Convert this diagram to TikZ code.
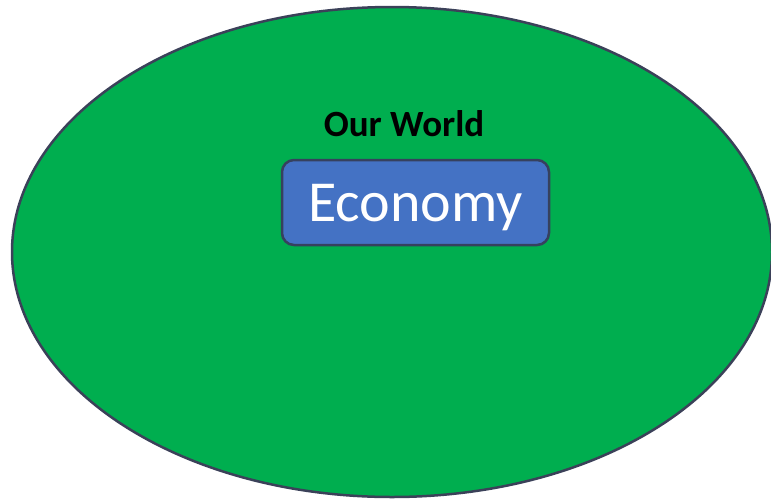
\documentclass[tikz,border=0pt]{standalone}
\usepackage{fontspec}
\setmainfont{Carlito}
\usepackage{tikz}
\usetikzlibrary{positioning}
\definecolor{worldgreen}{HTML}{00AE4F}
\definecolor{rimgray}{HTML}{3B4159}
\definecolor{econblue}{HTML}{4472C4}
\definecolor{econrim}{HTML}{36415E}
\tikzset{econbox/.style={draw=econrim, fill=econblue, line width=2.5pt, rounded corners=12pt,
                         minimum width=267pt, minimum height=85pt, text=white, text depth=0pt,
                         font=\fontsize{58}{64}\selectfont}}

\begin{document}
\begin{tikzpicture}[x=1pt,y=-1pt]
                      \useasboundingbox (0,0) rectangle (771,499);
                      \clip (0,0) rectangle (771,499);
                      \draw[fill=worldgreen, draw=rimgray, line width=2.5pt] (392,252) ellipse [x radius=380, y radius=245];
                      \node[econbox] (economy) at (415.5,202.5) {Economy};
                      \node[inner sep=0pt, font=\bfseries\fontsize{37}{42}\selectfont] (world) at (404,124) {Our World};
                  \end{tikzpicture}
\end{document}
